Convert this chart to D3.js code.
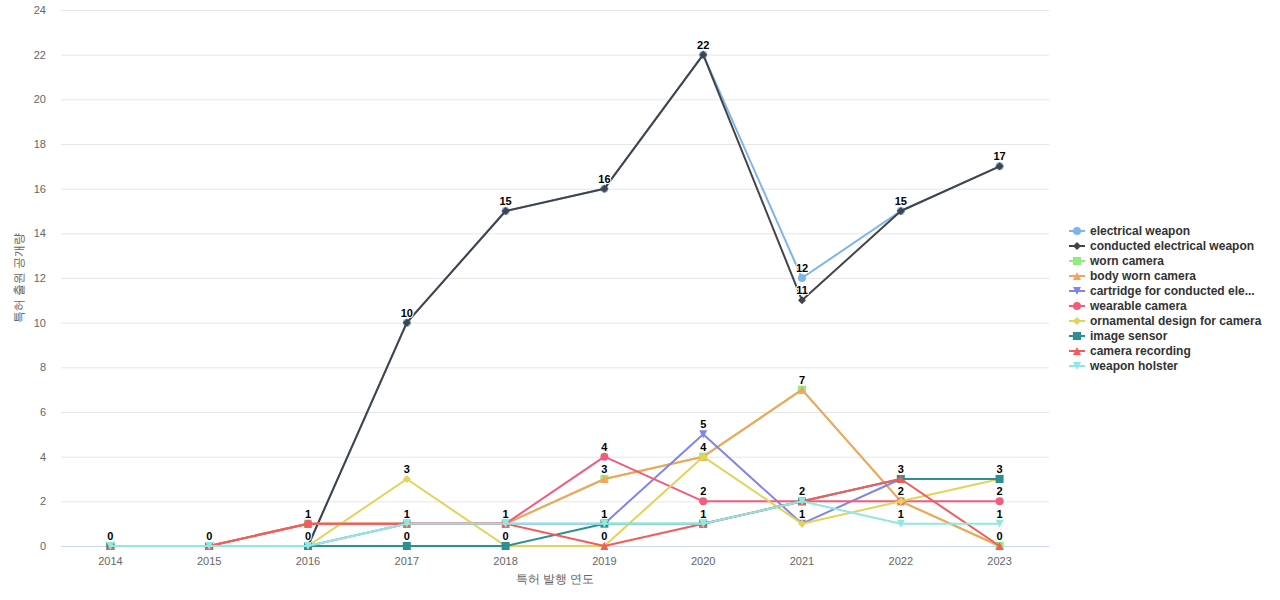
<!DOCTYPE html>
<html><head><meta charset="utf-8">
<script src="https://cdn.jsdelivr.net/npm/d3@7"></script>
<style>
body{margin:0;background:#fff;font-family:"Liberation Sans",Arial,Helvetica,sans-serif;}
svg text{font-family:"Liberation Sans",Arial,Helvetica,sans-serif;}
</style></head>
<body>
<svg id="c" width="1280" height="600"></svg>
<script>
const years = [2014,2015,2016,2017,2018,2019,2020,2021,2022,2023];
const seriesNames = ["electrical weapon","conducted electrical weapon","worn camera","body worn camera","cartridge for conducted electrical weapon","wearable camera","ornamental design for camera","image sensor","camera recording","weapon holster"];
const legendLabels = ["electrical weapon","conducted electrical weapon","worn camera","body worn camera","cartridge for conducted ele...","wearable camera","ornamental design for camera","image sensor","camera recording","weapon holster"];
const electricalWeapon = [0,0,0,10,15,16,22,12,15,17];
const conductedElectricalWeapon = [0,0,0,10,15,16,22,11,15,17];
const wornCamera = [0,0,1,1,1,3,4,7,2,0];
const bodyWornCamera = [0,0,1,1,1,3,4,7,2,0];
const cartridge = [0,0,0,1,1,1,5,1,3,3];
const wearableCamera = [0,0,1,1,1,4,2,2,2,2];
const ornamentalDesign = [0,0,0,3,0,0,4,1,2,3];
const imageSensor = [0,0,0,0,0,1,1,2,3,3];
const cameraRecording = [0,0,1,1,1,0,1,2,3,0];
const weaponHolster = [0,0,0,1,1,1,1,2,1,1];
const yTicks = [0,2,4,6,8,10,12,14,16,18,20,22,24];
const colors = ['#7cb5ec','#434348','#90ed7d','#f7a35c','#8085e9','#f15c80','#e4d354','#2b908f','#f45b5b','#91e8e1'];
const symbols = ['circle','diamond','square','triangle','tdown'];
const allValues = [electricalWeapon,conductedElectricalWeapon,wornCamera,bodyWornCamera,cartridge,wearableCamera,ornamentalDesign,imageSensor,cameraRecording,weaponHolster];
const series = seriesNames.map((n,i)=>({name:n,label:legendLabels[i],values:allValues[i],color:colors[i],sym:symbols[i%5]}));

const svg = d3.select('#c');
const m = {l:61,r:1049,t:10,b:546};
const x = d3.scalePoint().domain(years).range([m.l,m.r]).padding(0.5);
const y = d3.scaleLinear().domain([0,24]).range([m.b,m.t]);

svg.append('g').selectAll('line').data(yTicks.filter(t=>t>0)).join('line')
  .attr('x1',m.l).attr('x2',m.r).attr('y1',d=>y(d)+0.5).attr('y2',d=>y(d)+0.5)
  .attr('stroke','#e6e6e6').attr('stroke-width',1);
svg.append('g').selectAll('text').data(yTicks).join('text')
  .attr('x',46).attr('y',d=>y(d)+4).attr('text-anchor','end')
  .attr('font-size',11).attr('fill','#666').text(d=>d);
svg.append('line').attr('x1',m.l).attr('x2',m.r).attr('y1',m.b+0.5).attr('y2',m.b+0.5).attr('stroke','#ccd6eb');
svg.append('g').selectAll('text').data(years).join('text')
  .attr('x',d=>x(d)).attr('y',565).attr('text-anchor','middle')
  .attr('font-size',11).attr('fill','#666').text(d=>d);
svg.append('text').attr('x',555).attr('y',583).attr('text-anchor','middle')
  .attr('font-size',12).attr('fill','#666').attr('font-family','"Noto Sans CJK KR",sans-serif').text('특허 발행 연도');
svg.append('text').attr('transform','translate(23,278) rotate(-90)').attr('text-anchor','middle')
  .attr('font-size',12).attr('fill','#666').attr('font-family','"Noto Sans CJK KR",sans-serif').text('특허 출원 공개량');

function symPath(sym){
  const r = 4;
  if(sym==='circle'){ const p=d3.path(); p.arc(0,0,r,0,2*Math.PI); return p.toString(); }
  if(sym==='square') return `M${-r},${-r}H${r}V${r}H${-r}Z`;
  if(sym==='diamond') return `M0,${-r}L${r},0L0,${r}L${-r},0Z`;
  if(sym==='triangle') return `M0,${-r}L${r},${r}L${-r},${r}Z`;
  return `M${-r},${-r}L${r},${-r}L0,${r}Z`;
}
function drawMarker(g,s,cx,cy){
  g.append('path').attr('d',symPath(s.sym)).attr('transform',`translate(${cx},${cy})`).attr('fill',s.color);
}

const line = d3.line().x((d,i)=>x(years[i])).y(d=>y(d));
series.forEach(s=>{
  const g = svg.append('g');
  g.append('path').attr('d',line(s.values)).attr('fill','none').attr('stroke',s.color).attr('stroke-width',2).attr('stroke-linejoin','round');
  s.values.forEach((v,i)=>drawMarker(g,s,x(years[i]),y(v)));
});

const placed = [];
const lg = svg.append('g');
series.forEach(s=>{
  s.values.forEach((v,i)=>{
    const cx = x(years[i]), cy = y(v)-6;
    const w = String(v).length*7, h = 12;
    const box = {x0:cx-w/2,x1:cx+w/2,y0:cy-h+1,y1:cy+1};
    if(placed.some(b=>!(box.x1<b.x0||box.x0>b.x1||box.y1<b.y0||box.y0>b.y1))) return;
    placed.push(box);
    lg.append('text').attr('x',cx).attr('y',cy).attr('text-anchor','middle')
      .attr('font-size',11).attr('font-weight','bold').attr('fill','#000')
      .attr('stroke','#fff').attr('stroke-width',2).attr('paint-order','stroke').attr('stroke-linejoin','round')
      .text(v);
  });
});

const leg = svg.append('g');
series.forEach((s,i)=>{
  const yy = 231 + i*15;
  leg.append('line').attr('x1',1069).attr('x2',1085).attr('y1',yy).attr('y2',yy).attr('stroke',s.color).attr('stroke-width',2);
  drawMarker(leg,s,1077,yy);
  leg.append('text').attr('x',1090).attr('y',yy+4).attr('font-size',12).attr('font-weight','bold').attr('fill','#333').text(s.label);
});
</script>
</body></html>
